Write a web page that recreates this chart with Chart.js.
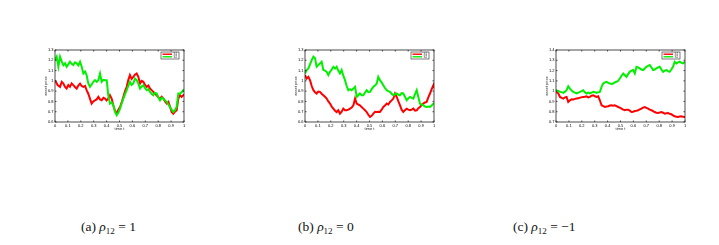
<!DOCTYPE html>
<html><head><meta charset="utf-8">
<script src="https://cdn.jsdelivr.net/npm/chart.js@4"></script>
<style>
html,body{margin:0;padding:0;background:#fff;width:719px;height:245px;overflow:hidden;position:relative}
.c{position:absolute;top:42px;width:150px;height:100px}
.cap{position:absolute;top:219px;font-family:'Liberation Serif','Times New Roman','DejaVu Serif',serif;font-size:13.5px;color:#111;white-space:nowrap;line-height:16px}
.cap i{font-style:italic}
.cap sub{font-size:9px;vertical-align:-3px;line-height:0}
</style></head><body>
<div class="c" style="left:40px"><canvas id="ca" width="150" height="100"></canvas></div>
<div class="c" style="left:290px"><canvas id="cb" width="150" height="100"></canvas></div>
<div class="c" style="left:541px"><canvas id="cc" width="150" height="100"></canvas></div>
<div class="cap" style="left:81px">(a) <i>ρ</i><sub>12</sub> = 1</div>
<div class="cap" style="left:298px">(b) <i>ρ</i><sub>12</sub> = 0</div>
<div class="cap" style="left:513px">(c) <i>ρ</i><sub>12</sub> = −1</div>
<script>
// ---- data ----
const seriesNames = ['S1', 'S2'];
const xTitle = 'time t';
const yTitle = 'asset price';
const yRangeA = [0.6, 1.3];
const yRangeB = [0.6, 1.3];
const yRangeC = [0.7, 1.4];

// [time, price] readings
const aRed = [[0,1.007],[.02,.96],[.039,.942],[.052,.99],[.065,.974],[.078,.94],[.090,.925],[.103,.96],[.116,.942],[.129,.975],[.142,.958],[.155,.94],[.168,.925],[.181,.955],[.194,.974],[.207,.95],[.220,.942],[.233,.95],[.245,.909],[.258,.875],[.271,.828],[.284,.779],[.297,.80],[.310,.811],[.323,.82],[.336,.844],[.349,.82],[.362,.811],[.375,.835],[.388,.828],[.400,.81],[.413,.828],[.426,.86],[.439,.828],[.452,.763],[.465,.71],[.478,.681],[.491,.72],[.504,.746],[.517,.79],[.530,.844],[.543,.90],[.556,.942],[.568,1.007],[.581,1.056],[.594,1.02],[.607,1.039],[.620,1.06],[.633,1.072],[.646,1.039],[.659,.974],[.672,1.0],[.685,.991],[.698,.96],[.711,.942],[.724,.955],[.736,.925],[.749,.91],[.762,.893],[.775,.875],[.788,.860],[.801,.84],[.814,.828],[.827,.845],[.840,.828],[.853,.80],[.866,.779],[.879,.795],[.891,.75],[.904,.697],[.917,.681],[.930,.70],[.943,.714],[.956,.828],[.969,.860],[.982,.845],[.995,.860],[1,.87]];
const aGreen = [[0,1.202],[.013,1.235],[.026,1.137],[.039,1.235],[.052,1.19],[.065,1.153],[.078,1.17],[.090,1.137],[.103,1.16],[.116,1.186],[.129,1.165],[.142,1.153],[.155,1.18],[.168,1.170],[.181,1.15],[.194,1.186],[.207,1.137],[.220,1.072],[.233,1.09],[.245,1.056],[.258,.974],[.271,.942],[.284,.965],[.297,.991],[.310,1.007],[.323,.99],[.336,1.007],[.349,1.072],[.362,.991],[.375,1.01],[.388,1.007],[.401,1.007],[.413,.860],[.426,.779],[.439,.79],[.452,.763],[.465,.70],[.478,.665],[.491,.69],[.504,.730],[.517,.78],[.530,.828],[.543,.87],[.556,.909],[.568,.95],[.581,.991],[.594,.96],[.607,.974],[.620,1.023],[.633,1.007],[.646,.974],[.659,.925],[.672,.945],[.685,.958],[.698,.93],[.711,.909],[.724,.92],[.736,.893],[.749,.875],[.762,.860],[.775,.885],[.788,.877],[.801,.84],[.814,.811],[.827,.835],[.840,.828],[.853,.81],[.866,.795],[.879,.77],[.891,.746],[.904,.72],[.917,.697],[.930,.715],[.943,.746],[.956,.877],[.969,.877],[.982,.89],[.995,.909],[1,.90]];

const bRed = [[0,1.056],[.013,1.023],[.026,1.039],[.039,1.007],[.052,.95],[.065,.909],[.078,.89],[.090,.877],[.103,.895],[.116,.893],[.129,.875],[.142,.860],[.155,.845],[.168,.828],[.181,.80],[.194,.779],[.207,.75],[.220,.730],[.233,.71],[.245,.697],[.258,.714],[.271,.681],[.284,.70],[.297,.730],[.310,.715],[.323,.714],[.336,.72],[.349,.730],[.362,.74],[.375,.763],[.388,.828],[.401,.779],[.413,.77],[.426,.763],[.439,.745],[.452,.730],[.465,.715],[.478,.697],[.491,.67],[.504,.649],[.517,.66],[.530,.681],[.543,.70],[.556,.697],[.568,.70],[.581,.697],[.594,.72],[.607,.746],[.620,.76],[.633,.779],[.646,.77],[.659,.795],[.672,.81],[.685,.828],[.698,.877],[.711,.844],[.724,.80],[.736,.763],[.749,.72],[.762,.697],[.775,.715],[.788,.730],[.801,.72],[.814,.714],[.827,.72],[.840,.730],[.853,.71],[.866,.714],[.879,.735],[.891,.746],[.904,.765],[.917,.779],[.930,.79],[.943,.795],[.956,.84],[.969,.877],[.982,.92],[.995,.958],[1,.93]];
const bGreen = [[0,1.072],[.013,1.105],[.026,1.121],[.039,1.16],[.052,1.202],[.065,1.235],[.078,1.219],[.090,1.137],[.103,1.153],[.116,1.17],[.129,1.186],[.142,1.105],[.155,1.10],[.168,1.088],[.181,1.056],[.194,1.088],[.207,1.11],[.220,1.137],[.233,1.12],[.245,1.137],[.258,1.10],[.271,1.072],[.284,1.105],[.297,1.05],[.310,1.007],[.323,.95],[.336,.909],[.349,.92],[.362,.909],[.375,.925],[.388,.942],[.401,.844],[.413,.86],[.426,.877],[.439,.86],[.452,.860],[.465,.885],[.478,.909],[.491,.89],[.504,.893],[.517,.92],[.530,.942],[.543,.955],[.556,.974],[.568,1.039],[.581,1.007],[.594,.985],[.607,.958],[.620,.93],[.633,.909],[.646,.90],[.659,.893],[.672,.875],[.685,.860],[.698,.87],[.711,.877],[.724,.865],[.736,.860],[.749,.88],[.762,.877],[.775,.845],[.788,.811],[.801,.83],[.814,.844],[.827,.835],[.840,.828],[.853,.87],[.866,.909],[.879,.84],[.891,.779],[.904,.77],[.917,.763],[.930,.75],[.943,.746],[.956,.75],[.969,.746],[.982,.76],[.995,.779],[1,.78]];

const cRed = [[0,.993],[.018,.977],[.031,.944],[.044,.935],[.057,.928],[.070,.94],[.082,.944],[.095,.895],[.108,.911],[.121,.92],[.134,.918],[.147,.925],[.160,.928],[.173,.93],[.186,.937],[.199,.94],[.211,.944],[.224,.945],[.237,.950],[.250,.94],[.263,.944],[.276,.955],[.289,.960],[.302,.95],[.314,.944],[.327,.950],[.340,.911],[.353,.863],[.366,.855],[.379,.846],[.392,.85],[.405,.853],[.418,.86],[.430,.863],[.443,.858],[.456,.863],[.469,.855],[.482,.846],[.495,.84],[.508,.830],[.521,.82],[.534,.814],[.546,.82],[.559,.820],[.572,.81],[.585,.797],[.598,.80],[.611,.807],[.624,.81],[.637,.814],[.649,.822],[.662,.830],[.675,.84],[.688,.846],[.701,.838],[.714,.830],[.727,.82],[.740,.814],[.753,.805],[.765,.797],[.778,.79],[.791,.788],[.804,.792],[.817,.797],[.830,.79],[.843,.781],[.856,.785],[.869,.788],[.881,.78],[.894,.775],[.907,.765],[.920,.755],[.933,.752],[.946,.749],[.959,.753],[.972,.755],[.985,.75],[1,.749]];
const cGreen = [[0,1.009],[.018,1.003],[.031,.993],[.044,.99],[.057,.983],[.070,.995],[.082,1.009],[.095,1.048],[.108,1.025],[.121,1.005],[.134,.993],[.147,.985],[.160,.977],[.173,.985],[.186,.993],[.199,1.0],[.211,1.009],[.224,.99],[.237,.977],[.250,.985],[.263,.977],[.276,.985],[.289,.993],[.302,.99],[.314,.983],[.327,.99],[.340,.993],[.353,1.042],[.366,1.074],[.379,1.085],[.392,1.091],[.405,1.08],[.418,1.074],[.430,1.07],[.443,1.074],[.456,1.085],[.469,1.091],[.482,1.10],[.495,1.123],[.508,1.15],[.521,1.172],[.534,1.155],[.546,1.139],[.559,1.165],[.572,1.188],[.585,1.20],[.598,1.205],[.611,1.172],[.624,1.237],[.637,1.23],[.649,1.221],[.662,1.21],[.675,1.205],[.688,1.22],[.701,1.237],[.714,1.245],[.727,1.253],[.740,1.23],[.753,1.205],[.765,1.21],[.778,1.221],[.791,1.23],[.804,1.237],[.817,1.21],[.830,1.188],[.843,1.20],[.856,1.205],[.869,1.195],[.881,1.188],[.894,1.21],[.907,1.237],[.920,1.286],[.933,1.270],[.946,1.28],[.959,1.286],[.972,1.275],[.985,1.270],[1,1.286]];

const RED = '#ff0000', GREEN = '#00f000';

const pts = arr => arr.map(p => ({x: p[0], y: p[1]}));
const fmt = v => String(+(+v).toFixed(1));

const framePlugin = {
  id: 'frame',
  afterDatasetsDraw(chart) {
    const {ctx, chartArea: a, scales: {x, y}} = chart;
    ctx.save();
    ctx.strokeStyle = '#222'; ctx.lineWidth = 0.8;
    ctx.strokeRect(a.left, a.top, a.right - a.left, a.bottom - a.top);
    ctx.beginPath();
    x.ticks.forEach(t => { const px = x.getPixelForValue(t.value);
      ctx.moveTo(px, a.bottom); ctx.lineTo(px, a.bottom - 1.5);
      ctx.moveTo(px, a.top); ctx.lineTo(px, a.top + 1.5); });
    y.ticks.forEach(t => { const py = y.getPixelForValue(t.value);
      ctx.moveTo(a.left, py); ctx.lineTo(a.left + 1.5, py);
      ctx.moveTo(a.right, py); ctx.lineTo(a.right - 1.5, py); });
    ctx.stroke();
    // legend box
    const bw = 18, bh = 7, bx = a.right - 5 - bw, by = a.top + 2;
    ctx.fillStyle = '#fff'; ctx.fillRect(bx, by, bw, bh);
    ctx.lineWidth = 0.6; ctx.strokeStyle = '#222'; ctx.strokeRect(bx, by, bw, bh);
    const cols = [RED, GREEN];
    ctx.font = '3px sans-serif'; ctx.textBaseline = 'middle';
    seriesNames.forEach((n, i) => {
      const ly = by + 2.2 + i * 2.6;
      ctx.strokeStyle = cols[i]; ctx.lineWidth = 1.4;
      ctx.beginPath(); ctx.moveTo(bx + 1.5, ly); ctx.lineTo(bx + 11, ly); ctx.stroke();
      ctx.fillStyle = '#222'; ctx.fillText(n, bx + 12.5, ly);
    });
    ctx.restore();
  }
};

function make(id, red, green, yr) {
  new Chart(document.getElementById(id), {
    type: 'line',
    data: { datasets: [
      {label: seriesNames[0], data: pts(red), borderColor: RED, borderWidth: 2, pointRadius: 0, tension: 0, order: 2},
      {label: seriesNames[1], data: pts(green), borderColor: GREEN, borderWidth: 2, pointRadius: 0, tension: 0, order: 1}
    ]},
    options: {
      responsive: false, animation: false, devicePixelRatio: 1,
      layout: {padding: {left: 3, right: 6, top: 8, bottom: 11}},
      plugins: {legend: {display: false}, tooltip: {enabled: false}},
      scales: {
        x: {type: 'linear', min: 0, max: 1,
          ticks: {stepSize: 0.1, font: {size: 4}, color: '#000', padding: 1, maxRotation: 0, autoSkip: false, callback: fmt},
          grid: {display: false, drawTicks: false, tickLength: 0}, border: {display: false},
          title: {display: true, text: xTitle, font: {size: 4}, color: '#222', padding: 0},
          afterFit(s) { s.height = 9; }},
        y: {type: 'linear', min: yr[0], max: yr[1],
          ticks: {stepSize: 0.1, font: {size: 4}, color: '#000', padding: 1.5, autoSkip: false, callback: fmt},
          grid: {display: false, drawTicks: false, tickLength: 0}, border: {display: false},
          title: {display: true, text: yTitle, font: {size: 4}, color: '#222', padding: 0},
          afterFit(s) { s.width = 12; }}
      }
    },
    plugins: [framePlugin]
  });
}
make('ca', aRed, aGreen, yRangeA);
make('cb', bRed, bGreen, yRangeB);
make('cc', cRed, cGreen, yRangeC);
</script>
</body></html>
